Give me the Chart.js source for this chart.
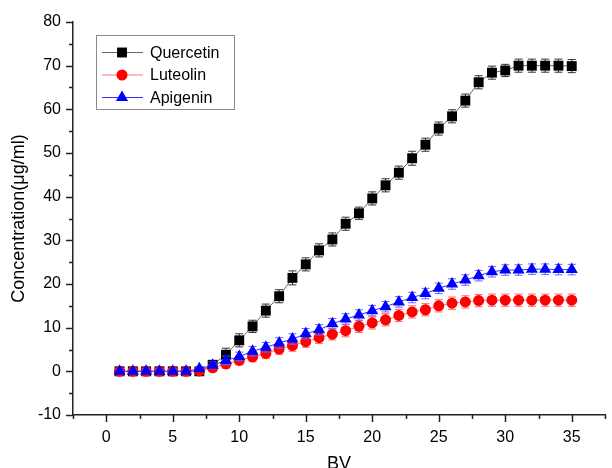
<!DOCTYPE html>
<html>
<head>
<meta charset="utf-8">
<script src="https://cdn.jsdelivr.net/npm/chart.js@4.4.1/dist/chart.umd.min.js"></script>
<style>
  html, body { margin: 0; padding: 0; background: #fff; }
  #wrap { width: 612px; height: 468px; }
</style>
</head>
<body>
<div id="wrap"><canvas id="chart" width="612" height="468"></canvas></div>
<script>
// BV (bed volumes)
const bv = [1,2,3,4,5,6,7,8,9,10,11,12,13,14,15,16,17,18,19,20,21,22,23,24,25,26,27,28,29,30,31,32,33,34,35];

// concentrations, ug/ml
const quercetin = [0,0,0,0,0,0,0,1.5,3.8,7.1,10.3,13.9,17.2,21.4,24.5,27.7,30.2,33.8,36.2,39.6,42.6,45.5,48.8,51.9,55.6,58.4,62.0,66.2,68.4,68.9,70.0,70.0,70.0,70.0,69.9];
const luteolin  = [0,0,0,0,0,0,0.1,0.8,1.7,2.5,3.3,4.1,5.1,5.9,6.8,7.7,8.5,9.3,10.3,11.1,11.8,12.8,13.6,14.1,15.0,15.6,15.9,16.2,16.3,16.3,16.3,16.3,16.3,16.3,16.3];
const apigenin  = [0,0,0,0,0,0,0.6,1.4,2.5,3.4,4.6,5.5,6.5,7.4,8.6,9.5,10.9,12.0,12.9,13.9,14.8,15.9,16.9,17.8,19.0,20.0,20.9,21.9,22.8,23.2,23.2,23.4,23.4,23.3,23.3];

// error bars (+/-)
const quercetinErr = [0.5,0.5,0.5,0.5,0.5,0.5,0.5,0.9,1.5,1.5,1.4,1.5,1.5,1.6,1.5,1.5,1.5,1.5,1.4,1.5,1.5,1.5,1.6,1.5,1.5,1.5,1.5,1.5,1.5,1.4,1.5,1.5,1.5,1.5,1.5];
const luteolinErr  = [0.5,0.5,0.5,0.5,0.5,0.5,0.5,0.8,1.0,1.0,1.1,1.2,1.2,1.3,1.3,1.3,1.3,1.4,1.4,1.4,1.4,1.4,1.4,1.4,1.4,1.4,1.4,1.4,1.4,1.4,1.4,1.4,1.4,1.4,1.4];
const apigeninErr  = [0.5,0.5,0.5,0.5,0.5,0.5,0.5,0.8,1.0,1.0,1.1,1.1,1.2,1.2,1.2,1.2,1.2,1.2,1.2,1.2,1.2,1.2,1.2,1.2,1.2,1.2,1.2,1.2,1.2,1.2,1.2,1.2,1.2,1.2,1.2];

const seriesNames = ['Quercetin', 'Luteolin', 'Apigenin'];

const FONT = '"Liberation Sans", Arial, Helvetica, sans-serif';

function toPoints(ys) {
  return bv.map((x, i) => ({ x: x, y: ys[i] }));
}

// error bars drawn right before each dataset so markers sit on top
const errorBars = {
  id: 'errorBars',
  beforeDatasetDraw(chart, args) {
    const ds = chart.data.datasets[args.index];
    if (!ds.errors) return;
    const ctx = chart.ctx;
    const y = chart.scales.y;
    ctx.save();
    ctx.strokeStyle = ds.errColor;
    ctx.lineWidth = 1;
    args.meta.data.forEach((pt, i) => {
      const v = ds.data[i].y, e = ds.errors[i];
      const top = y.getPixelForValue(v + e);
      const bot = y.getPixelForValue(v - e);
      const x = pt.x;
      ctx.beginPath();
      ctx.moveTo(x, top); ctx.lineTo(x, bot);
      ctx.moveTo(x - 4, top); ctx.lineTo(x + 4, top);
      ctx.moveTo(x - 4, bot); ctx.lineTo(x + 4, bot);
      ctx.stroke();
    });
    ctx.restore();
  }
};

// major / minor outward ticks like the original plot
const axisTicks = {
  id: 'axisTicks',
  afterDraw(chart) {
    const ctx = chart.ctx;
    const xs = chart.scales.x, ys = chart.scales.y;
    ctx.save();
    ctx.strokeStyle = '#222';
    ctx.lineWidth = 1.5;
    ctx.beginPath();
    xs.ticks.forEach(t => {
      const v = t.value;
      if (Math.abs(v / 2.5 - Math.round(v / 2.5)) > 1e-6) return;
      const len = Math.abs(v % 5) < 1e-6 ? 7 : 4;
      const px = Math.round(xs.getPixelForValue(v)) + 0.5;
      ctx.moveTo(px, xs.top);
      ctx.lineTo(px, xs.top + len);
    });
    ys.ticks.forEach(t => {
      const v = t.value;
      if (Math.abs(v % 5) > 1e-6) return;
      const len = Math.abs(v % 10) < 1e-6 ? 7 : 4;
      const py = Math.round(ys.getPixelForValue(v)) + 0.5;
      ctx.moveTo(ys.right, py);
      ctx.lineTo(ys.right - len, py);
    });
    ctx.stroke();
    ctx.restore();
  }
};

// boxed legend inside the plot, line + marker like Origin
const boxLegend = {
  id: 'boxLegend',
  afterDraw(chart) {
    const ctx = chart.ctx;
    const left = 96, top = 35, w = 138, h = 74;
    ctx.save();
    ctx.strokeStyle = '#8a8a8a';
    ctx.lineWidth = 1;
    ctx.strokeRect(left + 0.5, top + 0.5, w, h);
    const rows = [52.5, 75, 97.5];
    seriesNames.forEach((name, i) => {
      const ds = chart.data.datasets[i];
      const yy = rows[i];
      ctx.strokeStyle = ds.borderColor;
      ctx.lineWidth = 1;
      ctx.beginPath();
      ctx.moveTo(102, yy); ctx.lineTo(143, yy);
      ctx.stroke();
      ctx.fillStyle = ds.pointBackgroundColor;
      ctx.strokeStyle = ds.pointBackgroundColor;
      Chart.helpers.drawPoint(ctx, {
        pointStyle: ds.pointStyle, radius: ds.pointRadius, rotation: 0, borderWidth: 0
      }, 122, yy);
      ctx.fillStyle = '#000';
      ctx.font = '16px ' + FONT;
      ctx.textBaseline = 'middle';
      ctx.textAlign = 'left';
      ctx.fillText(name, 150, yy + 1);
    });
    ctx.restore();
  }
};

new Chart(document.getElementById('chart'), {
  type: 'line',
  data: {
    datasets: [
      {
        label: seriesNames[0],
        data: toPoints(quercetin),
        errors: quercetinErr,
        errColor: '#333',
        borderColor: '#666',
        borderWidth: 1,
        pointStyle: 'rect',
        pointRadius: 7,
        pointBackgroundColor: '#000',
        pointBorderWidth: 0,
        order: 3
      },
      {
        label: seriesNames[1],
        data: toPoints(luteolin),
        errors: luteolinErr,
        errColor: '#f66',
        borderColor: '#f77',
        borderWidth: 1,
        pointStyle: 'circle',
        pointRadius: 5.5,
        pointBackgroundColor: '#f00',
        pointBorderWidth: 0,
        order: 2
      },
      {
        label: seriesNames[2],
        data: toPoints(apigenin),
        errors: apigeninErr,
        errColor: '#66f',
        borderColor: '#33f',
        borderWidth: 1,
        pointStyle: 'triangle',
        pointRadius: 7,
        pointBackgroundColor: '#00f',
        pointBorderWidth: 0,
        order: 1
      }
    ]
  },
  options: {
    responsive: false,
    animation: false,
    devicePixelRatio: 1,
    layout: { padding: { left: 0, right: 6, top: 22, bottom: 0 } },
    plugins: { legend: { display: false }, tooltip: { enabled: false } },
    scales: {
      x: {
        type: 'linear',
        min: -2.5,
        max: 37.5,
        grid: { display: true, drawOnChartArea: false, drawTicks: false },
        border: { display: true, color: '#222', width: 1.5 },
        ticks: {
          stepSize: 2.5,
          padding: 13,
          color: '#000',
          font: { family: FONT, size: 16 },
          maxRotation: 0,
          autoSkip: false,
          callback: v => (Math.abs(v % 5) < 1e-6 ? v : '')
        },
        title: {
          display: true,
          text: 'BV',
          color: '#000',
          font: { family: FONT, size: 18 },
          padding: { top: 0, bottom: -7 }
        },
        afterFit(scale) {
          scale.height = 53;
          scale.paddingLeft = 0;
          scale.paddingRight = 0;
        }
      },
      y: {
        type: 'linear',
        min: -10,
        max: 80,
        grid: { display: true, drawOnChartArea: false, drawTicks: false },
        border: { display: true, color: '#222', width: 1.5 },
        ticks: {
          stepSize: 5,
          padding: 12,
          color: '#000',
          font: { family: FONT, size: 16 },
          autoSkip: false,
          callback: v => (Math.abs(v % 10) < 1e-6 ? v : '')
        },
        title: {
          display: true,
          text: 'Concentration(μg/ml)',
          color: '#000',
          font: { family: FONT, size: 18 },
          padding: { top: 8, bottom: 0 }
        },
        afterFit(scale) {
          scale.width = 73;
          scale.paddingTop = 0;
          scale.paddingBottom = 0;
        }
      }
    }
  },
  plugins: [errorBars, axisTicks, boxLegend]
});
</script>
</body>
</html>
